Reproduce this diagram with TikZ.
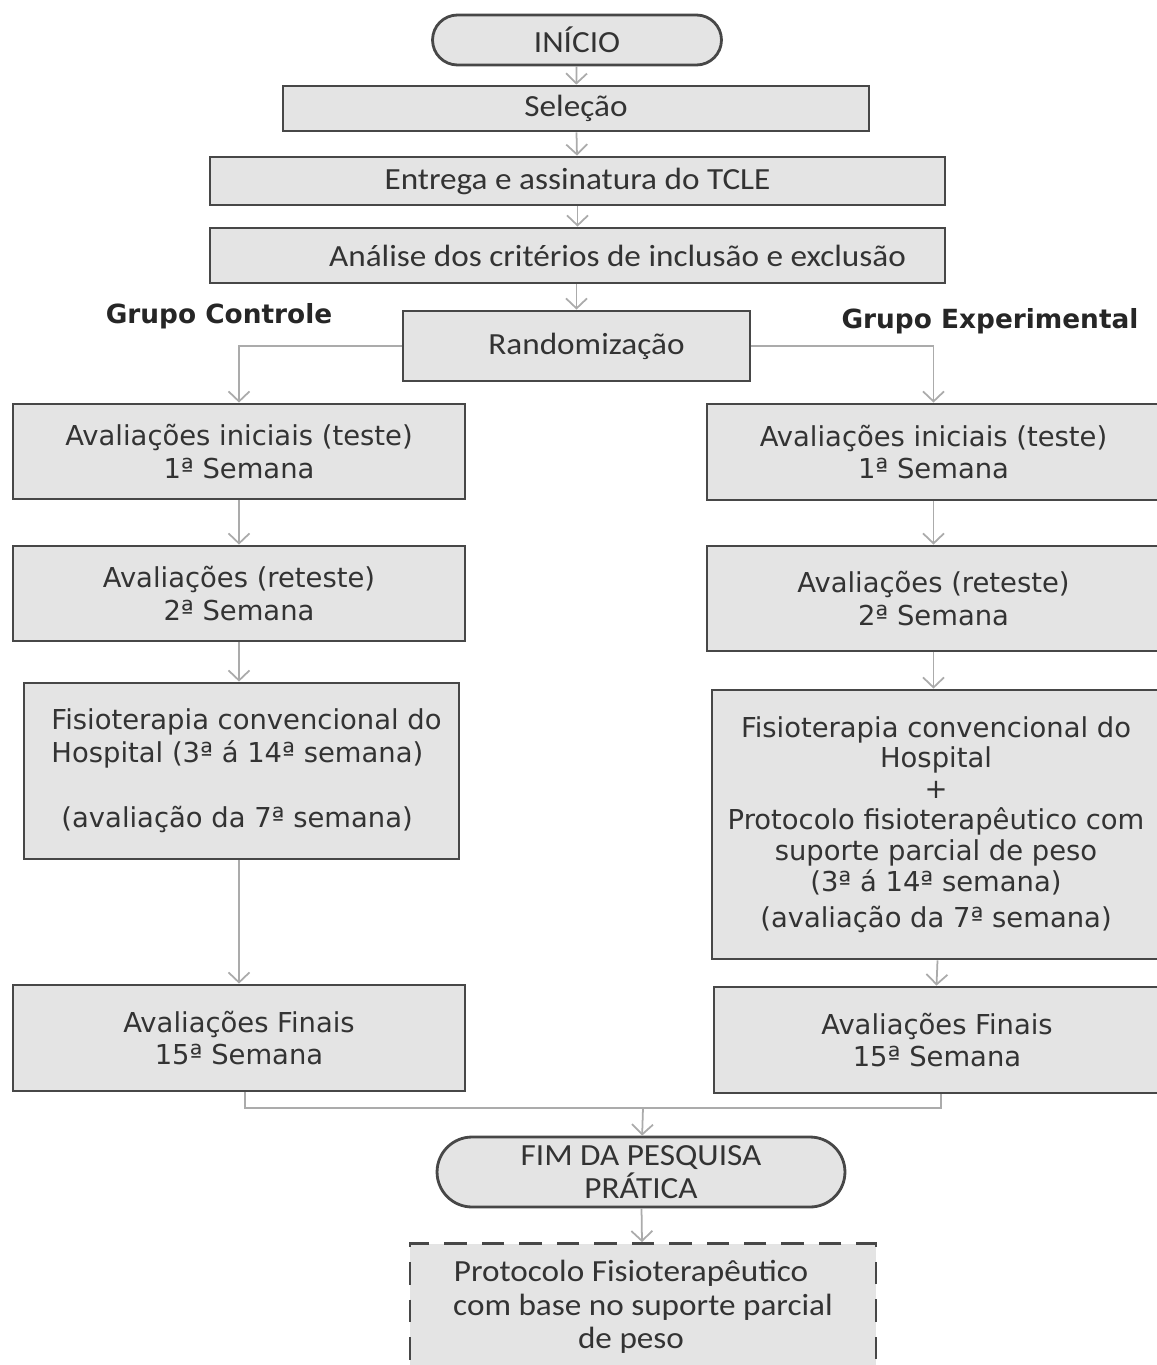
\documentclass[tikz,border=0pt]{standalone}
\usepackage{fontspec}
\usepackage{tikz}
\usetikzlibrary{arrows.meta}
\setmainfont{DejaVu Sans}
\newfontfamily\calibri[FakeStretch=1.08]{Carlito}
\definecolor{caixa}{HTML}{E4E4E4}
\definecolor{borda}{HTML}{474747}
\definecolor{linha}{HTML}{ABABAB}
\definecolor{texto}{HTML}{333333}

\begin{document}
\begin{tikzpicture}
[
x=0.02cm, y=-0.02cm,
>={Straight Barb[length=2mm,width=4.2mm]},
every node/.style={text=texto, inner sep=2pt},
caixa/.style={draw=borda, line width=1.6pt, fill=caixa, align=center,
  font=\fontsize{15.6}{18.7}\selectfont},
cal/.style={font=\calibri\fontsize{17.5}{19}\selectfont},
rotulo/.style={font=\bfseries\fontsize{15}{18}\selectfont, text=black!85},
seta/.style={draw=linha, line width=1pt, ->},
liga/.style={draw=linha, line width=1pt}
]
\useasboundingbox (0,0) rectangle (1156,1365);

% topo
\node[caixa, cal, rounded corners=0.5cm, minimum width=5.78cm, minimum height=1cm] (inicio) at (577,40) {INÍCIO};
\node[caixa, cal, minimum width=11.72cm, minimum height=0.9cm] (selecao) at (576,108.5) {Seleção};
\node[caixa, cal, minimum width=14.7cm, minimum height=0.96cm] (tcle) at (577.5,181) {Entrega e assinatura do TCLE};
\node[caixa, cal, minimum width=14.7cm, minimum height=1.1cm] (criterios) at (577.5,255.5) {\hspace{1.6cm}Análise dos critérios de inclusão e exclusão};
\node[caixa, cal, minimum width=6.94cm, minimum height=1.4cm] (rand) at (576.5,346) {\hspace{0.4cm}Randomização};

\node[rotulo] (gc) at (219,316) {Grupo Controle};
\node[rotulo] (ge) at (990,321) {Grupo Experimental};

% grupo controle
\node[caixa, minimum width=9.04cm, minimum height=1.9cm] (c1) at (239,451.5) {Avaliações iniciais (teste)\\1ª Semana};
\node[caixa, minimum width=9.04cm, minimum height=1.9cm] (c2) at (239,593.5) {Avaliações (reteste)\\2ª Semana};
\node[caixa, align=left, minimum width=8.7cm, minimum height=3.52cm] (c3) at (241.5,771)
  {\hspace*{0.2cm}Fisioterapia convencional do\\\hspace*{0.2cm}Hospital (3ª á 14ª semana)\\[0.65cm]\hspace*{0.4cm}(avaliação da 7ª semana)};
\node[caixa, minimum width=9.04cm, minimum height=2.12cm] (c4) at (239,1038) {Avaliações Finais\\15ª Semana};

% grupo experimental
\node[caixa, minimum width=9.06cm, minimum height=1.92cm] (e1) at (933.5,452) {Avaliações iniciais (teste)\\1ª Semana};
\node[caixa, minimum width=9.06cm, minimum height=2.1cm] (e2) at (933.5,598.5) {Avaliações (reteste)\\2ª Semana};
\node[caixa, minimum width=8.96cm, minimum height=5.38cm, font=\fontsize{15.6}{17.6}\selectfont] (e3) at (936,824.5)
  {Fisioterapia convencional do\\Hospital\\+\\Protocolo fisioterapêutico com\\suporte parcial de peso\\(3ª á 14ª semana)\\[0.1cm](avaliação da 7ª semana)};
\node[caixa, minimum width=8.92cm, minimum height=2.12cm] (e4) at (937,1040) {Avaliações Finais\\15ª Semana};

% fim
\node[caixa, cal, rounded corners=0.7cm, minimum width=8.16cm, minimum height=1.4cm] (fim) at (641,1172) {FIM DA PESQUISA\\PRÁTICA};
\node[caixa, cal, dashed, dash pattern=on 0.45cm off 0.3cm, minimum width=9.32cm, minimum height=2.74cm, text depth=0.3cm] (protocolo) at (643,1312)
  {Protocolo Fisioterapêutico\hspace*{0.48cm}\\com base no suporte parcial\hspace*{0.48cm}\\de peso\hspace*{0.48cm}};

% ligacoes
\draw[seta] (inicio) -- (selecao);
\draw[seta] (selecao) -- (tcle);
\draw[seta] (tcle) -- (criterios);
\draw[seta] (criterios.south -| rand.north) -- (rand);
\draw[seta] (rand.west) -| (c1.north);
\draw[seta] (rand.east) -| (e1.north);
\draw[seta] (c1) -- (c2);
\draw[seta] (c2) -- (c2.south |- c3.north);
\draw[seta] (c2.south |- c3.south) -- (c4);
\draw[seta] (e1) -- (e2);
\draw[seta] (e2) -- (e2.south |- e3.north);
\draw[seta] ([xshift=0.08cm]e2.south |- e3.south) -- ([xshift=0.06cm]e2.south |- e4.north);
\coordinate (juncao) at (643,1108);
\draw[liga] ([xshift=0.12cm]c4.south) |- (juncao) -| ([xshift=0.08cm]e4.south);
\draw[seta] (juncao) -- (fim);
\draw[seta] (fim) -- (protocolo);
\end{tikzpicture}
\end{document}
